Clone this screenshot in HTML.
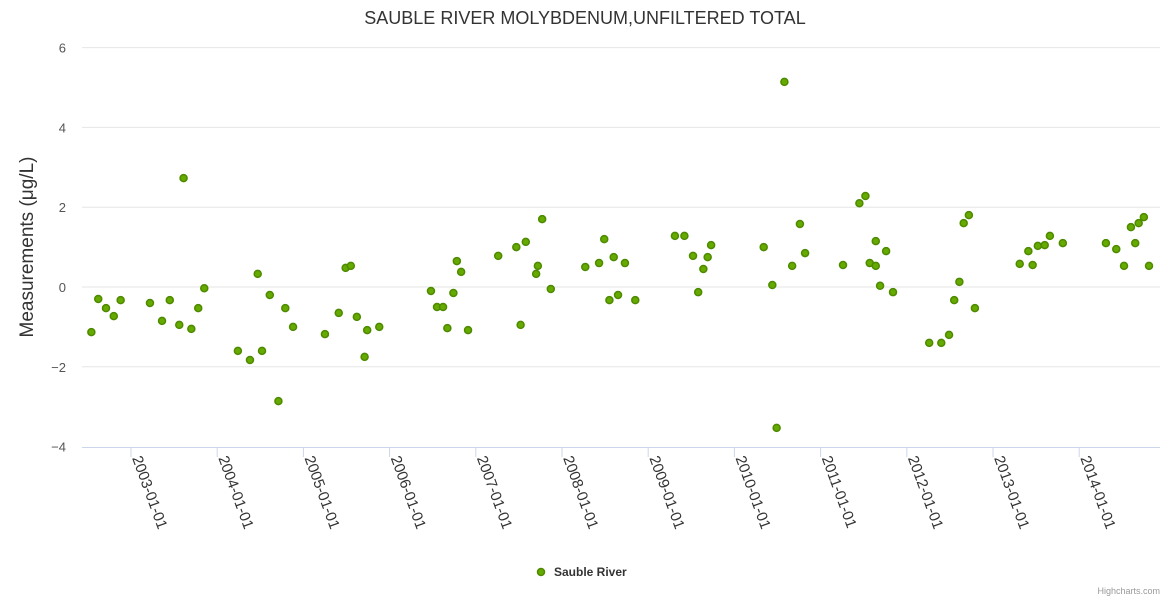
<!DOCTYPE html>
<html><head><meta charset="utf-8"><style>
body{margin:0;background:#fff;}
svg text{font-family:"Liberation Sans",sans-serif;}
</style></head><body>
<svg id="chart" width="1170" height="600" xmlns="http://www.w3.org/2000/svg">
<rect width="1170" height="600" fill="#fff"/>
<text x="585" y="24" text-anchor="middle" font-size="18" fill="#333">SAUBLE RIVER MOLYBDENUM,UNFILTERED TOTAL</text>
<text transform="translate(33,247) rotate(-90)" text-anchor="middle" font-size="19" fill="#333">Measurements (μg/L)</text>
<g id="grid"></g><g id="xaxis"></g><g id="points"></g>
<g>
<circle cx="541" cy="572" r="3.5" fill="#66aa00" stroke="#4d8a00" stroke-width="1.5"/>
<text x="554" y="576" font-size="12" font-weight="bold" fill="#333">Sauble River</text>
</g>
<text x="1160" y="594" text-anchor="end" font-size="9" fill="#999">Highcharts.com</text>
</svg>
<script>
const years=[2002.54,2002.62,2002.71,2002.80,2002.88,2003.22,2003.36,2003.45,2003.56,2003.61,2003.70,2003.78,2003.85,2004.24,2004.38,2004.47,2004.52,2004.61,2004.71,2004.79,2004.88,2005.25,2005.41,2005.49,2005.55,2005.62,2005.71,2005.74,2005.88,2006.48,2006.55,2006.62,2006.67,2006.74,2006.78,2006.83,2006.91,2007.26,2007.47,2007.52,2007.58,2007.70,2007.72,2007.77,2007.87,2008.27,2008.43,2008.49,2008.55,2008.60,2008.65,2008.73,2008.85,2009.31,2009.42,2009.52,2009.58,2009.64,2009.69,2009.73,2010.34,2010.44,2010.49,2010.58,2010.67,2010.76,2010.82,2011.26,2011.45,2011.52,2011.57,2011.64,2011.64,2011.69,2011.76,2011.84,2012.26,2012.40,2012.49,2012.55,2012.61,2012.66,2012.72,2012.79,2013.31,2013.41,2013.46,2013.52,2013.60,2013.66,2013.81,2014.31,2014.43,2014.52,2014.60,2014.65,2014.69,2014.75,2014.81];
const values=[-1.13,-0.30,-0.53,-0.73,-0.33,-0.40,-0.85,-0.33,-0.95,2.73,-1.05,-0.53,-0.03,-1.60,-1.83,0.33,-1.60,-0.20,-2.86,-0.53,-1.00,-1.18,-0.65,0.48,0.53,-0.75,-1.75,-1.08,-1.00,-0.10,-0.50,-0.50,-1.03,-0.15,0.65,0.38,-1.08,0.78,1.00,-0.95,1.13,0.33,0.53,1.70,-0.05,0.50,0.60,1.20,-0.33,0.75,-0.20,0.60,-0.33,1.28,1.28,0.78,-0.13,0.45,0.75,1.05,1.00,0.05,-3.53,5.14,0.53,1.58,0.85,0.55,2.10,2.28,0.60,1.15,0.53,0.03,0.90,-0.13,-1.40,-1.40,-1.20,-0.33,0.13,1.60,1.80,-0.53,0.58,0.90,0.55,1.03,1.05,1.28,1.10,1.10,0.95,0.53,1.50,1.10,1.60,1.75,0.53];
const yTicks=[-4,-2,0,2,4,6];
const xTicks=["2003-01-01","2004-01-01","2005-01-01","2006-01-01","2007-01-01","2008-01-01","2009-01-01","2010-01-01","2011-01-01","2012-01-01","2013-01-01","2014-01-01"];
const NS="http://www.w3.org/2000/svg";
const X=y=>131+(y-2003)*86.2;
const Y=v=>287-v*39.9;
function mk(t,a,p){const e=document.createElementNS(NS,t);for(const k in a)e.setAttribute(k,a[k]);p.appendChild(e);return e;}
const grid=document.getElementById('grid'),xa=document.getElementById('xaxis'),pts=document.getElementById('points');
yTicks.forEach(v=>{
 if(v!==-4){const l=mk('line',{x1:82,x2:1160,y1:Y(v),y2:Y(v),stroke:'#e6e6e6'},grid);
 
 }
 const t=mk('text',{x:66,y:Y(v)+5,'text-anchor':'end','font-size':13,fill:'#555'},grid);
 t.textContent=v<0?'−'+Math.abs(v):String(v);
 
 
});
const ax=mk('line',{x1:82,x2:1160,y1:447.5,y2:447.5,stroke:'#ccd6eb'},xa);


xTicks.forEach(s=>{
 const x=X(parseInt(s));
 const tk=mk('line',{x1:x,x2:x,y1:447,y2:457,stroke:'#ccd6eb'},xa);
 
 
 const t=mk('text',{transform:`translate(${x+1},${458}) rotate(70)`,'font-size':15,fill:'#333'},xa);
 t.textContent=s;
 
 
});
years.forEach((yr,i)=>{
 const c=mk('circle',{cx:X(yr),cy:Y(values[i]),r:3.5,fill:'#66aa00',stroke:'#4d8a00','stroke-width':1.5},pts);
 
 
});
</script>
</body></html>
